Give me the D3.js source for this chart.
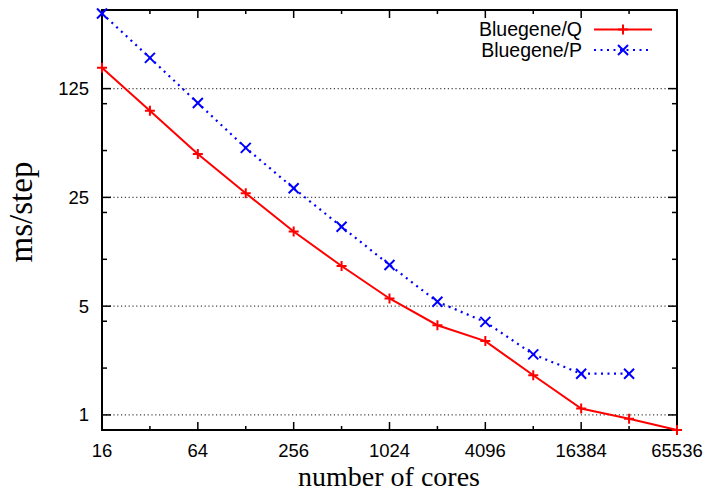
<!DOCTYPE html>
<html>
<head>
<meta charset="utf-8">
<script src="https://cdn.jsdelivr.net/npm/d3@7/dist/d3.min.js"></script>
<style>
  html, body { margin: 0; padding: 0; background: #fff; }
  svg { display: block; }
</style>
</head>
<body>
<svg id="chart" width="709" height="493"></svg>
<script>
// Core counts (x) and time per step in ms (y) for each machine
const cores = [16, 32, 64, 128, 256, 512, 1024, 2048, 4096, 8192, 16384, 32768, 65536];
const bluegeneQ = [170, 90, 47.5, 26.6, 15.1, 9.05, 5.6, 3.77, 2.98, 1.8, 1.1, 0.945, 0.8];
const bluegeneP = [380, 197, 101, 52, 28.6, 16.2, 9.2, 5.33, 3.96, 2.45, 1.84, 1.84];

const xMajorTicks = [16, 64, 256, 1024, 4096, 16384, 65536];
const xMinorTicks = [32, 128, 512, 2048, 8192, 32768];
const yMajorTicks = [1, 5, 25, 125];
const yMinorTicks = [2, 4, 10, 20, 50, 100];

const svg = d3.select("#chart");
const plotL = 102, plotR = 677, plotT = 10, plotB = 430;

const x = d3.scaleLog().base(2).domain([16, 65536]).range([plotL, plotR]);
const y = d3.scaleLog().base(5).domain([0.8, 400]).range([plotB, plotT]);

// horizontal dotted grid at the labelled y values
svg.append("g").selectAll("line").data(yMajorTicks).join("line")
  .attr("x1", plotL).attr("x2", plotR)
  .attr("y1", d => y(d)).attr("y2", d => y(d))
  .attr("stroke", "#444").attr("stroke-width", 1.2)
  .attr("stroke-dasharray", "1.2 2.6");

// tick marks on all four sides (major longer than minor)
const tickG = svg.append("g").attr("stroke", "#000").attr("stroke-width", 1.5);
const xt = xMajorTicks.map(v => ({v, len: 8})).concat(xMinorTicks.map(v => ({v, len: 4})));
xt.forEach(t => {
  tickG.append("line").attr("x1", x(t.v)).attr("x2", x(t.v)).attr("y1", plotB).attr("y2", plotB - t.len);
  tickG.append("line").attr("x1", x(t.v)).attr("x2", x(t.v)).attr("y1", plotT).attr("y2", plotT + t.len);
});
const yt = yMajorTicks.map(v => ({v, len: 9})).concat(yMinorTicks.map(v => ({v, len: 5})));
yt.forEach(t => {
  tickG.append("line").attr("y1", y(t.v)).attr("y2", y(t.v)).attr("x1", plotL).attr("x2", plotL + t.len);
  tickG.append("line").attr("y1", y(t.v)).attr("y2", y(t.v)).attr("x1", plotR).attr("x2", plotR - t.len);
});

// frame
svg.append("rect").attr("x", plotL).attr("y", plotT)
  .attr("width", plotR - plotL).attr("height", plotB - plotT)
  .attr("fill", "none").attr("stroke", "#000").attr("stroke-width", 2);

// tick labels
const sans = "'Liberation Sans', Arial, Helvetica, sans-serif";
svg.append("g").selectAll("text").data(xMajorTicks).join("text")
  .attr("x", d => x(d)).attr("y", 457)
  .attr("text-anchor", "middle")
  .attr("font-family", sans).attr("font-size", 18.5)
  .text(d => d);
svg.append("g").selectAll("text").data(yMajorTicks).join("text")
  .attr("x", 89).attr("y", d => y(d) + 6.5)
  .attr("text-anchor", "end")
  .attr("font-family", sans).attr("font-size", 18.5)
  .text(d => d);

// axis titles
const serif = "'Liberation Serif', 'Times New Roman', Times, serif";
svg.append("text").attr("x", 389).attr("y", 486)
  .attr("text-anchor", "middle")
  .attr("font-family", serif).attr("font-size", 28)
  .text("number of cores");
svg.append("text")
  .attr("transform", "translate(32,212) rotate(-90)")
  .attr("text-anchor", "middle")
  .attr("font-family", serif).attr("font-size", 33)
  .text("ms/step");

// series
const line = d3.line().x(d => x(d[0])).y(d => y(d[1]));
const qData = cores.map((c, i) => [c, bluegeneQ[i]]);
const pData = bluegeneP.map((v, i) => [cores[i], v]);

function plus(g, cx, cy, col) {
  g.append("path").attr("d", `M${cx - 5},${cy}H${cx + 5}M${cx},${cy - 5}V${cy + 5}`)
    .attr("stroke", col).attr("stroke-width", 2).attr("fill", "none");
}
function cross(g, cx, cy, col) {
  g.append("path").attr("d", `M${cx - 5},${cy - 5}L${cx + 5},${cy + 5}M${cx - 5},${cy + 5}L${cx + 5},${cy - 5}`)
    .attr("stroke", col).attr("stroke-width", 2).attr("fill", "none");
}

const red = "#ff0000", blue = "#0000ff";
svg.append("path").datum(pData).attr("d", line)
  .attr("fill", "none").attr("stroke", blue).attr("stroke-width", 2.2)
  .attr("stroke-dasharray", "2 4.5");
svg.append("path").datum(qData).attr("d", line)
  .attr("fill", "none").attr("stroke", red).attr("stroke-width", 2);

const mk = svg.append("g");
pData.forEach(d => cross(mk, x(d[0]), y(d[1]), blue));
qData.forEach(d => plus(mk, x(d[0]), y(d[1]), red));

// legend
const lg = svg.append("g");
const legendItems = [
  {name: "Bluegene/Q", col: red, dash: null, marker: plus, yy: 29.5},
  {name: "Bluegene/P", col: blue, dash: "2 4.5", marker: cross, yy: 50}
];
legendItems.forEach(it => {
  lg.append("text").attr("x", 582).attr("y", it.yy + 6.5)
    .attr("text-anchor", "end")
    .attr("font-family", sans).attr("font-size", 19.5)
    .text(it.name);
  lg.append("line").attr("x1", 594).attr("x2", 652).attr("y1", it.yy).attr("y2", it.yy)
    .attr("stroke", it.col).attr("stroke-width", 2)
    .attr("stroke-dasharray", it.dash);
  it.marker(lg, 623, it.yy, it.col);
});
</script>
</body>
</html>
